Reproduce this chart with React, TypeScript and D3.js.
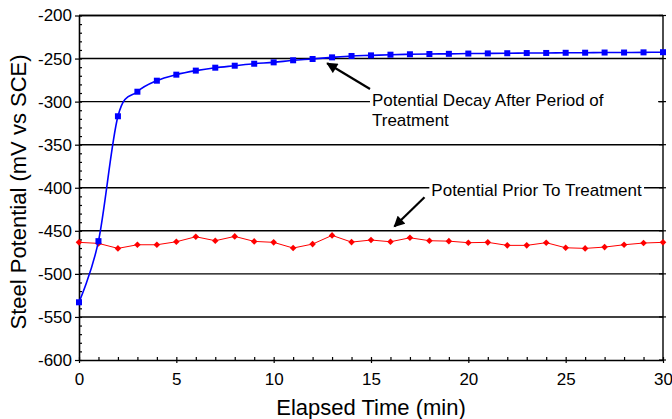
import React, { useRef, useEffect } from "react";
import * as d3 from "d3";

const minutes = d3.range(0, 31);

const afterTreatment = [
  -533, -462, -317, -288.5, -275.7, -268.7, -264, -260.6, -258.3, -256, -254.4,
  -252, -250.5, -248.6, -247, -246.3, -245.5, -245, -244.7, -244.5, -244.2,
  -244, -243.8, -243.6, -243.5, -243.3, -243.2, -243, -243, -242.8, -242.6,
];

const priorTreatment = [
  -463.4, -464.6, -470.4, -466.2, -466.2, -462.7, -456.9, -461.5, -456.5, -462.3,
  -463.4, -470, -465.4, -455.3, -463.1, -460.7, -462.7, -458.1, -461.5, -462,
  -463.8, -463.4, -466.9, -466.9, -463.8, -469.7, -470.4, -468.9, -466.2, -464.2,
  -463.4,
];

const yTicks = [-600, -550, -500, -450, -400, -350, -300, -250, -200];
const xTicks = [0, 5, 10, 15, 20, 25, 30];

// annotations in data units: text start, arrow tail, arrow tip, right edge of white box
const notes = [
  { lines: ["Potential Decay After Period of", "Treatment"], t: 15.05, v: -305, tail: [14.95, -285.4], tip: [12.75, -255.5], boxTo: 29.75 },
  { lines: ["Potential Prior To Treatment"], t: 18.1, v: -409.8, tail: [17.75, -411], tip: [16.2, -445], boxTo: null },
];

const FONT = "'Liberation Sans', Arial, sans-serif";

function App() {
  const svgRef = useRef<SVGSVGElement>(null);

  useEffect(() => {
    const svg = d3.select(svgRef.current);
    svg.selectAll("*").remove();

    const x = d3.scaleLinear().domain([0, 30]).range([79, 663]);
    const y = d3.scaleLinear().domain([-600, -200]).range([360, 15.5]);

    svg.append("defs").append("marker")
      .attr("id", "head")
      .attr("viewBox", "0 0 10 10")
      .attr("refX", 9).attr("refY", 5)
      .attr("markerWidth", 5.5).attr("markerHeight", 5)
      .attr("markerUnits", "strokeWidth")
      .attr("orient", "auto")
      .append("path").attr("d", "M0,0 L10,5 L0,10 Z").attr("fill", "#000");

    // gridlines
    svg.append("g").selectAll("line")
      .data(yTicks.slice(1))
      .join("line")
      .attr("x1", x(0)).attr("x2", x(30))
      .attr("y1", (d) => y(d)).attr("y2", (d) => y(d))
      .attr("stroke", "#000").attr("stroke-width", 1.4);

    // annotation boxes + text (drawn over gridlines)
    notes.forEach((n) => {
      const g = svg.append("g");
      const bg = g.append("rect").attr("fill", "#fff");
      const txt = g.append("text")
        .attr("x", x(n.t)).attr("y", y(n.v))
        .attr("font-size", 17).attr("font-family", FONT).attr("fill", "#000");
      n.lines.forEach((l, i) => {
        txt.append("tspan").attr("x", x(n.t)).attr("dy", i === 0 ? 0 : 20).text(l);
      });
      const bb = (txt.node() as SVGTextElement).getBBox();
      const right = n.boxTo != null ? x(n.boxTo) : bb.x + bb.width + 2;
      bg.attr("x", bb.x - 2).attr("y", bb.y).attr("width", right - bb.x + 2).attr("height", bb.height);
    });

    // right border with ticks
    const right = svg.append("g");
    right.append("line")
      .attr("x1", x(30)).attr("x2", x(30)).attr("y1", y(-200)).attr("y2", y(-600))
      .attr("stroke", "#000").attr("stroke-width", 1.4);
    right.selectAll("line.rt")
      .data(yTicks)
      .join("line").attr("class", "rt")
      .attr("x1", x(30) - 4).attr("x2", x(30) + 3)
      .attr("y1", (d) => y(d)).attr("y2", (d) => y(d))
      .attr("stroke", "#000").attr("stroke-width", 1.2);

    // y axis
    const yMinor = d3.range(-600, -199, 10);
    svg.append("g").attr("transform", `translate(${x(0)},0)`)
      .call(d3.axisRight(y).tickValues(yMinor).tickSize(3).tickFormat(() => ""))
      .call((g) => g.select(".domain").remove())
      .selectAll("line").attr("stroke-width", 1.2);
    const yAxis = svg.append("g").attr("transform", `translate(${x(0)},0)`)
      .call(d3.axisLeft(y).tickValues(yTicks).tickSize(4).tickSizeOuter(0).tickPadding(3).tickFormat((d) => String(d)));
    yAxis.select(".domain").attr("stroke-width", 1.6);
    yAxis.selectAll("line").attr("stroke-width", 1.2);
    yAxis.selectAll("text").attr("font-size", 17).attr("font-family", FONT).attr("fill", "#000");

    // x axis
    svg.append("g").attr("transform", `translate(0,${y(-600)})`)
      .call(d3.axisTop(x).tickValues(minutes).tickSize(3).tickFormat(() => ""))
      .call((g) => g.select(".domain").remove())
      .selectAll("line").attr("stroke-width", 1.2);
    const xAxis = svg.append("g").attr("transform", `translate(0,${y(-600)})`)
      .call(d3.axisBottom(x).tickValues(xTicks).tickSize(3).tickSizeOuter(0).tickPadding(10).tickFormat((d) => String(d)));
    xAxis.select(".domain").attr("stroke-width", 1.6);
    xAxis.selectAll("line").attr("stroke-width", 1.2);
    xAxis.selectAll("text").attr("font-size", 17).attr("font-family", FONT).attr("fill", "#000");

    // top border
    svg.append("line")
      .attr("x1", x(0)).attr("x2", x(30)).attr("y1", y(-200)).attr("y2", y(-200))
      .attr("stroke", "#000").attr("stroke-width", 1.4);

    // red series
    const redLine = d3.line<number>().x((d, i) => x(minutes[i])).y((d) => y(d));
    svg.append("path")
      .attr("d", redLine(priorTreatment))
      .attr("fill", "none").attr("stroke", "#ff0000").attr("stroke-width", 1);
    svg.append("g").selectAll("path")
      .data(priorTreatment)
      .join("path")
      .attr("d", (d, i) => {
        const cx = x(minutes[i]), cy = y(d), r = 3.3;
        return `M${cx},${cy - r}L${cx + r},${cy}L${cx},${cy + r}L${cx - r},${cy}Z`;
      })
      .attr("fill", "#ff0000");

    // blue series
    const blueLine = d3.line<number>()
      .x((d, i) => x(minutes[i])).y((d) => y(d))
      .curve(d3.curveCardinal.tension(0));
    svg.append("path")
      .attr("d", blueLine(afterTreatment))
      .attr("fill", "none").attr("stroke", "#0000ff").attr("stroke-width", 1.6);
    svg.append("g").selectAll("rect")
      .data(afterTreatment)
      .join("rect")
      .attr("x", (d, i) => x(minutes[i]) - 3)
      .attr("y", (d) => y(d) - 3)
      .attr("width", 6).attr("height", 6)
      .attr("fill", "#0000ff");

    // arrows
    notes.forEach((n) => {
      svg.append("line")
        .attr("x1", x(n.tail[0])).attr("y1", y(n.tail[1]))
        .attr("x2", x(n.tip[0])).attr("y2", y(n.tip[1]))
        .attr("stroke", "#000").attr("stroke-width", 2.2)
        .attr("marker-end", "url(#head)");
    });

    // axis titles
    svg.append("text")
      .attr("x", (x(0) + x(30)) / 2).attr("y", 415)
      .attr("text-anchor", "middle")
      .attr("font-size", 22).attr("font-family", FONT)
      .text("Elapsed Time (min)");
    svg.append("text")
      .attr("transform", `translate(26,192) rotate(-90)`)
      .attr("text-anchor", "middle")
      .attr("font-size", 22).attr("font-family", FONT)
      .text("Steel Potential (mV vs SCE)");
  }, []);

  return (
    <svg ref={svgRef} width={672} height={419}
      style={{ position: "absolute", left: 0, top: 0, background: "#fff" }} />
  );
}

export default App;
